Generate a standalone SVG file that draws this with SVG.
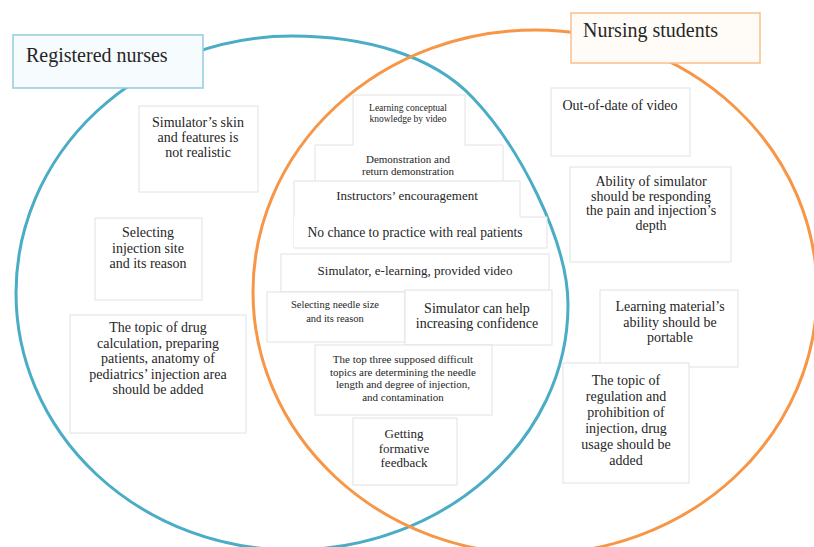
<svg xmlns="http://www.w3.org/2000/svg" width="814" height="547" viewBox="0 0 814 547">
<style>
  text { font-family: "Liberation Serif", "DejaVu Serif", "Times New Roman", serif; fill: #262626; }
  .t { text-anchor: middle; }
  .box { fill: #ffffff; stroke: #e2e2e2; stroke-width: 1; }
  .edge { fill: none; stroke: #e2e2e2; stroke-width: 1; }
  .set { fill: none; stroke-width: 3; }
  .s14 { font-size: 14px; }
  .s13 { font-size: 13px; }
  .s135 { font-size: 13.6px; }
  .s11 { font-size: 11px; }
  .s10 { font-size: 10.5px; }
  .s9 { font-size: 9.5px; }
  .title { font-size: 20px; }
</style>
<rect x="0" y="0" width="814" height="547" fill="#ffffff"/>
<g id="connectors">
  <path id="blue-set" class="set" stroke="#4BACC6" d="M16,293 A276,257 0 0 1 292,36 C362,36 432,54 473,98 C518,145 568,240 568,305 C568,440 444,550 292,550 A276,257 0 0 1 16,293 Z"/>
  <ellipse id="orange-set" class="set" stroke="#F79646" cx="535" cy="292" rx="282" ry="262"/>
</g>
<g id="registered-nurses">
  <rect x="13" y="35" width="190" height="53" fill="#f6fbfd" stroke="#93cddd" stroke-width="1.5"/>
  <text class="title" x="26" y="62">Registered nurses</text>
</g>
<g id="nursing-students">
  <rect x="571" y="13" width="189" height="50" fill="#fffcf8" stroke="#f9bf8d" stroke-width="1.5"/>
  <text class="title" x="583" y="37">Nursing students</text>
</g>
<g id="skin">
  <rect class="box" x="139" y="106" width="119" height="86"/>
  <text class="t s14" x="198" y="127">Simulator’s skin</text>
  <text class="t s14" x="198" y="142">and features is</text>
  <text class="t s14" x="198" y="157">not realistic</text>
</g>
<g id="injection-site">
  <rect class="box" x="95" y="218" width="107" height="82"/>
  <text class="t s14" x="148" y="237">Selecting</text>
  <text class="t s14" x="148" y="253">injection site</text>
  <text class="t s14" x="148" y="268">and its reason</text>
</g>
<g id="drug-calculation">
  <rect class="box" x="70" y="315" width="176" height="118"/>
  <text class="t s14" x="158" y="332">The topic of drug</text>
  <text class="t s14" x="158" y="348">calculation, preparing</text>
  <text class="t s14" x="158" y="363">patients, anatomy of</text>
  <text class="t s14" x="158" y="379">pediatrics’ injection area</text>
  <text class="t s14" x="158" y="394">should be added</text>
</g>
<g id="learning-video">
  <rect x="353" y="95" width="112" height="50" fill="#ffffff"/>
  <path class="edge" d="M353,145 V95 H465 V145"/>
  <text class="t s9" x="408" y="111">Learning conceptual</text>
  <text class="t s9" x="408" y="122">knowledge by video</text>
</g>
<g id="demonstration">
  <rect x="315" y="145" width="188" height="37" fill="#ffffff"/>
  <path class="edge" d="M315,182 V145 H353 M465,145 H503 V182"/>
  <text class="t s11" x="408" y="163">Demonstration and</text>
  <text class="t s11" x="408" y="175">return demonstration</text>
</g>
<g id="encouragement">
  <rect x="294" y="181" width="226" height="36" fill="#ffffff"/>
  <path class="edge" d="M294,248 V181 H520 V217"/>
  <text class="t s13" x="407" y="200">Instructors’ encouragement</text>
</g>
<g id="no-chance">
  <rect x="294" y="217" width="253" height="31" fill="#ffffff"/>
  <path class="edge" d="M294,248 H547 V217 H520"/>
  <text class="t s135" x="415" y="237">No chance to practice with real patients</text>
</g>
<g id="simulator-elearning">
  <rect class="box" x="281" y="254" width="268" height="38"/>
  <text class="t s13" x="415" y="275">Simulator, e-learning, provided video</text>
</g>
<g id="needle-size">
  <rect class="box" x="267" y="292" width="138" height="50"/>
  <text class="t s10" x="335" y="308">Selecting needle size</text>
  <text class="t s10" x="335" y="322">and its reason</text>
</g>
<g id="confidence">
  <rect class="box" x="405" y="290" width="147" height="55"/>
  <text class="t s14" x="477" y="313">Simulator can help</text>
  <text class="t s14" x="477" y="328">increasing confidence</text>
</g>
<g id="difficult-topics">
  <rect class="box" x="315" y="345" width="177" height="70"/>
  <text class="t s11" x="403" y="363">The top three supposed difficult</text>
  <text class="t s11" x="403" y="375.5">topics are determining the needle</text>
  <text class="t s11" x="403" y="388">length and degree of injection,</text>
  <text class="t s11" x="403" y="400.5">and contamination</text>
</g>
<g id="feedback">
  <rect class="box" x="353" y="418" width="104" height="67"/>
  <text class="t s13" x="404" y="438">Getting</text>
  <text class="t s13" x="404" y="453">formative</text>
  <text class="t s13" x="404" y="467">feedback</text>
</g>
<g id="out-of-date">
  <rect class="box" x="551" y="88" width="139" height="68"/>
  <text class="t s14" x="620" y="110">Out-of-date of video</text>
</g>
<g id="simulator-ability">
  <rect class="box" x="570" y="167" width="161" height="95"/>
  <text class="t s14" x="651" y="186">Ability of simulator</text>
  <text class="t s14" x="651" y="200.5">should be responding</text>
  <text class="t s14" x="651" y="215">the pain and injection’s</text>
  <text class="t s14" x="651" y="229.5">depth</text>
</g>
<g id="portable">
  <rect class="box" x="600" y="290" width="138" height="77"/>
  <text class="t s14" x="670" y="311">Learning material’s</text>
  <text class="t s14" x="670" y="327">ability should be</text>
  <text class="t s14" x="670" y="342">portable</text>
</g>
<g id="regulation">
  <rect class="box" x="563" y="363" width="126" height="120"/>
  <text class="t s14" x="626" y="385">The topic of</text>
  <text class="t s14" x="626" y="401">regulation and</text>
  <text class="t s14" x="626" y="417">prohibition of</text>
  <text class="t s14" x="626" y="433">injection, drug</text>
  <text class="t s14" x="626" y="449">usage should be</text>
  <text class="t s14" x="626" y="465">added</text>
</g>
</svg>
